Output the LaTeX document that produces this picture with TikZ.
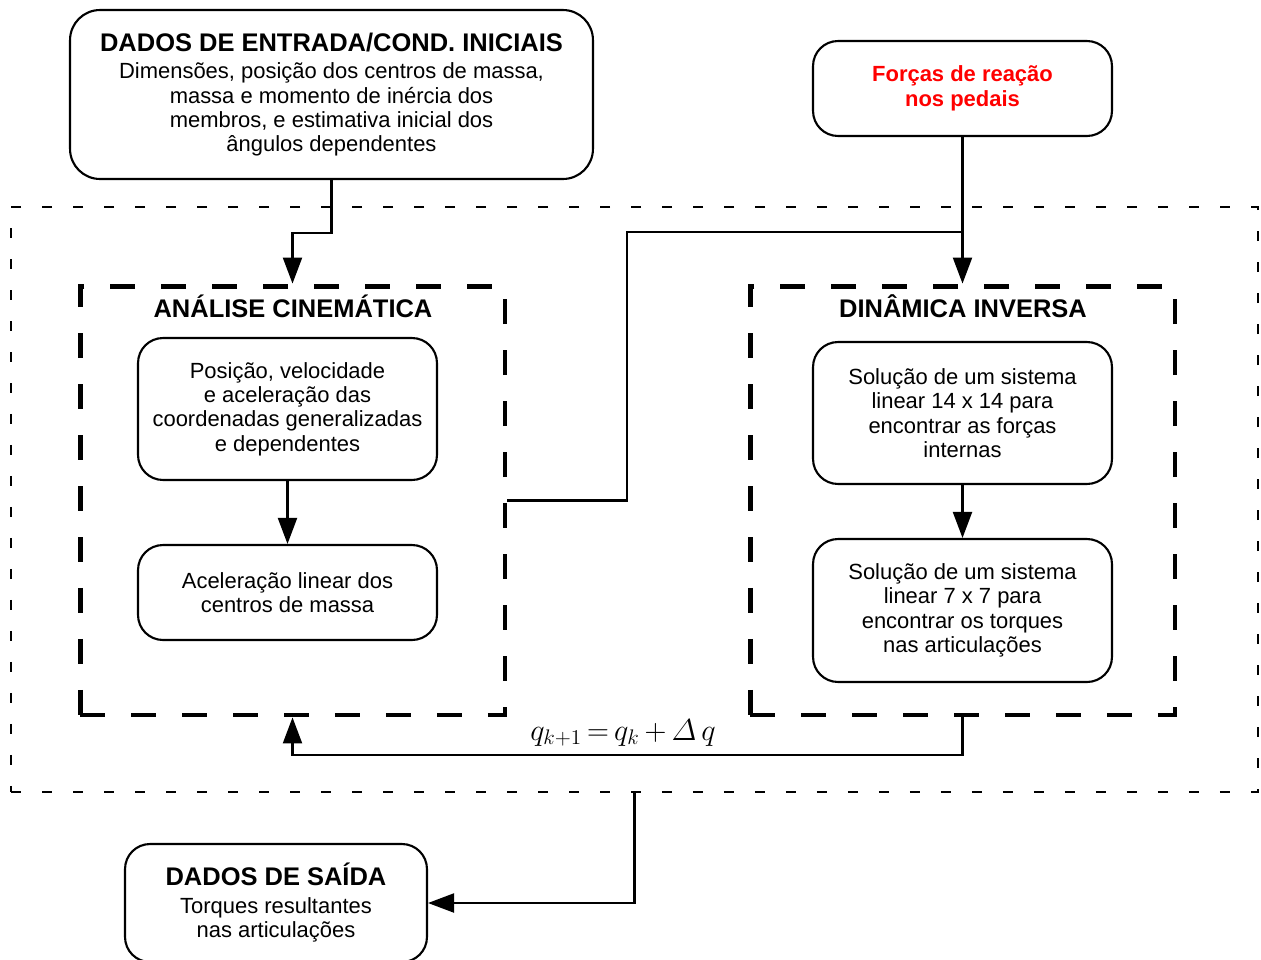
\documentclass[tikz,border=0pt]{standalone}
\usepackage{fontspec}
\setmainfont{Liberation Sans}
\usetikzlibrary{arrows.meta}
\newcommand{\hd}[1]{{\fontsize{14.5}{16}\selectfont\bfseries #1}}

\begin{document}
\begin{tikzpicture}[x=0.02cm, y=-0.02cm,
  every node/.style={align=center, inner sep=0pt, font=\fontsize{12.5}{13.9}\selectfont},
  blk/.style={draw, line width=1.2pt, rounded corners=0.5cm, minimum width=5.98cm},
  grp/.style={draw, line width=2.8pt, dash pattern=on 0.5cm off 0.52cm, minimum width=8.5cm, minimum height=8.58cm},
  loopbox/.style={draw, line width=1.2pt, dash pattern=on 0.2cm off 0.42cm, minimum width=24.94cm, minimum height=11.7cm},
  ttl/.style={font=\fontsize{14.5}{16}\selectfont\bfseries, anchor=base},
  conn/.style={line width=1.2pt},
  arr/.style={conn, -{Triangle[length=0.52cm, width=0.38cm]}}
]
\useasboundingbox (0,0) rectangle (1261,960);
% entradas
\node[blk, rounded corners=0.6cm, minimum width=10.46cm, minimum height=3.38cm] (inp) at (331.5,94.5)
  {\hd{DADOS DE ENTRADA/COND. INICIAIS}\\[1.8pt] Dimensões, posição dos centros de massa,\\ massa e momento de inércia dos\\ membros, e estimativa inicial dos\\ ângulos dependentes};
\node[blk, minimum height=1.9cm, text=red, font=\fontsize{12.5}{14.2}\selectfont\bfseries] (frc) at (962.5,88.5)
  {Forças de reação\\ nos pedais};
% laco
\node[loopbox] (loop) at (634.5,499.5) {};
\node[grp] (cin) at (292.5,500.5) {};
\node[grp] (din) at (962.5,500.5) {};
\node[ttl] (cint) at (293,317) {ANÁLISE CINEMÁTICA};
\node[ttl] (dint) at (963,317) {DINÂMICA INVERSA};
\node[blk, minimum height=2.84cm] (k1) at (287.5,409)
  {Posição, velocidade\\ e aceleração das\\ coordenadas generalizadas\\ e dependentes};
\node[blk, minimum height=1.9cm] (k2) at (287.5,592.5)
  {Aceleração linear dos\\ centros de massa};
\node[blk, minimum height=2.84cm] (d1) at (962.5,413)
  {Solução de um sistema\\ linear 14 x 14 para\\ encontrar as forças\\ internas};
\node[blk, minimum height=2.86cm] (d2) at (962.5,610.5)
  {Solução de um sistema\\ linear 7 x 7 para\\ encontrar os torques\\ nas articulações};
\node (upd) at (623,733) {\fontsize{17}{20}\selectfont $q_{k+1}{\,=\,}q_k{\,+\,}\mathnormal{\Delta}\,q$};
% saida
\node[blk, minimum width=6.04cm, minimum height=2.36cm] (out) at (276,903)
  {\hd{DADOS DE SAÍDA}\\[1.8pt] Torques resultantes\\ nas articulações};
\coordinate (jn) at (962.5,232);
\draw[arr] (inp.south) -- ++(0,53) -| (cin.north);
\draw[arr] (frc.south) -- (din.north);
\draw[conn] (cin.east) -| (627,232) -- (jn);
\draw[arr] (k1.south) -- (k2.north);
\draw[arr] (d1.south) -- (d2.north);
\draw[arr] (din.south) -- ++(0,38) -| (cin.south);
\draw[arr] (loop.south) |- (out.east);
\end{tikzpicture}
\end{document}
